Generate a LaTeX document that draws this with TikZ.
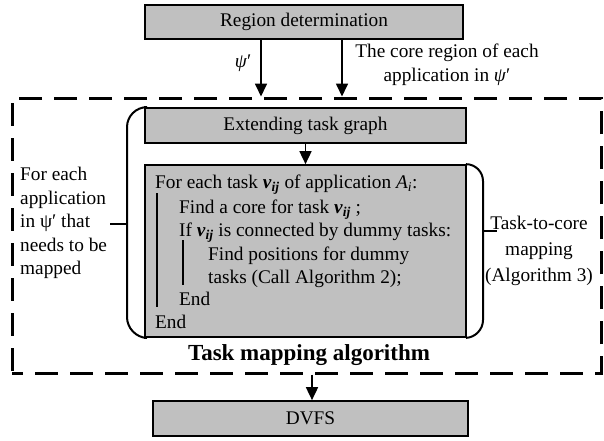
\documentclass[tikz,border=0pt]{standalone}
\usepackage{fontspec}
\setmainfont{Liberation Serif}
\usetikzlibrary{arrows.meta}
\definecolor{boxgray}{RGB}{192,192,192}
\newcommand{\vij}{\textbf{\textit{v}}\textsubscript{\textbf{\textit{ij}}}}
\tikzset{
  graybox/.style={draw=black, line width=1.7pt, fill=boxgray, inner sep=0pt},
  arr/.style={line width=1.7pt, -{Triangle[length=13pt,width=12pt]}},
  brk/.style={line width=2pt},
  txt/.style={inner sep=0pt, font=\fontsize{19.3}{23.5}\selectfont},
  algline/.style={txt, anchor=base west},
  outerbox/.style={draw=black, line width=3pt, dash pattern=on 23pt off 12pt, dash phase=12pt, inner sep=0pt}
}
\begin{document}
\begin{tikzpicture}[x=1pt,y=-1pt]
\useasboundingbox (0,0) rectangle (604,440);
% boxes
\node[graybox, minimum width=318pt, minimum height=34pt] (region) at (304,22) {};
\node[txt] (regiont) at (304,22) {Region determination};
\node[outerbox, minimum width=589pt, minimum height=275pt] (outer) at (306.5,235.5) {};
\node[graybox, minimum width=321pt, minimum height=35pt] (ext) at (305.5,125.5) {};
\node[txt] (extt) at (305.5,125.5) {Extending task graph};
\node[graybox, minimum width=321pt, minimum height=172pt] (alg) at (305.5,251) {};
\node[graybox, minimum width=315pt, minimum height=35pt] (dvfs) at (310.5,418.5) {};
\node[txt] (dvfst) at (310.5,418.5) {DVFS};
% algorithm text
\node[algline] (l1) at (155,188) {For each task \vij{} of application \textit{A}\textsubscript{\textit{i}}:};
\node[algline] (l2) at (179,213) {Find a core for task \vij{} ;};
\node[algline] (l3) at (179,236) {If \vij{} is connected by dummy tasks:};
\node[algline] (l4) at (208,260) {Find positions for dummy};
\node[algline] (l5) at (208,283) {tasks (Call Algorithm 2);};
\node[algline] (l6) at (179,305) {End};
\node[algline] (l7) at (155,328) {End};
\coordinate (b1t) at (156.5,193);
\coordinate (b1b) at (156.5,307);
\coordinate (b2t) at (183,240);
\coordinate (b2b) at (183,285);
\draw[brk] (b1t) -- (b1b);
\draw[brk] (b2t) -- (b2b);
% brackets
\draw[brk, rounded corners=20pt] (ext.north west) -| (127,337) -- (alg.south west);
\draw[brk, rounded corners=17pt] (alg.north east) -| (483,337) -- (alg.south east);
\coordinate (lb) at (127,224);
\coordinate (rb) at (483,231);
\node[txt, align=left, anchor=west] (lefttxt) at (20,223) {For each\\application\\in ψ′ that\\needs to be\\mapped};
\node[txt, align=center, font=\fontsize{19.3}{26}\selectfont] (righttxt) at (539,251) {Task-to-core\\mapping\\(Algorithm 3)};
\draw[brk] (lb) -- (110,224);
\draw[brk] (rb) -- (497,231);
% labels
\node[txt] (psil) at (243,63) {\textit{ψ}′};
\node[txt, align=center] (coretxt) at (447,65) {The core region of each\\application in \textit{ψ}′};
\node[txt, font=\fontsize{23}{27}\selectfont\bfseries] (title) at (309,355) {Task mapping algorithm};
% arrows
\coordinate (a1) at (261,0);
\coordinate (a2) at (342,0);
\coordinate (a3) at (312,0);
\draw[arr] (region.south -| a1) -- (outer.north -| a1);
\draw[arr] (region.south -| a2) -- (outer.north -| a2);
\draw[arr] (ext.south) -- (alg.north);
\draw[arr] (outer.south -| a3) -- (dvfs.north -| a3);
\end{tikzpicture}
\end{document}
